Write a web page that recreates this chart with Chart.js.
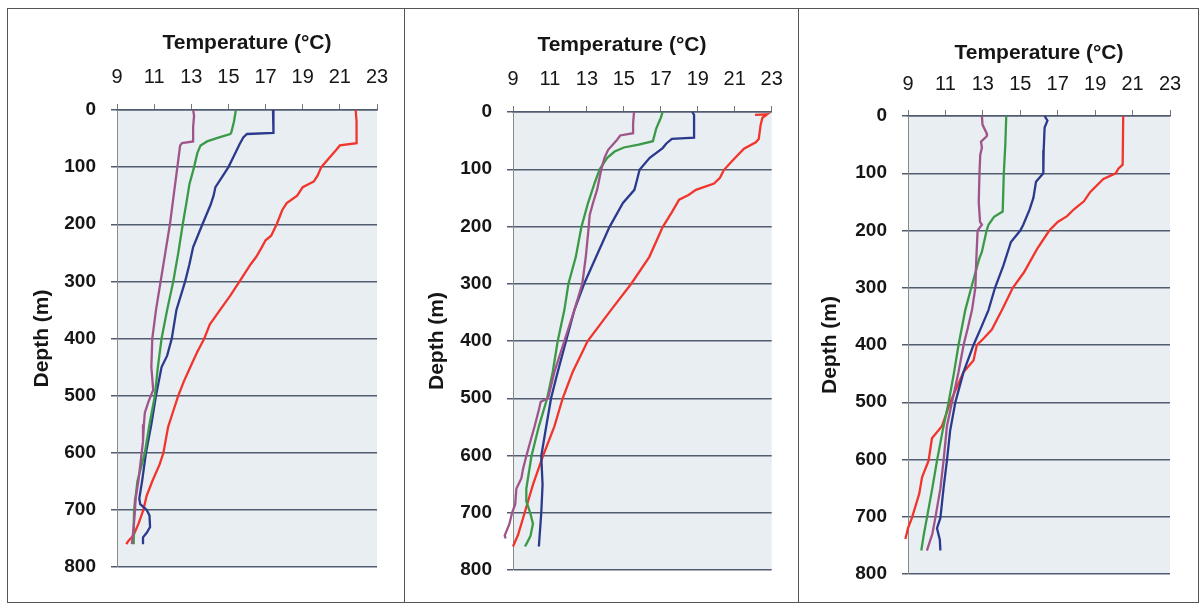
<!DOCTYPE html>
<html><head><meta charset="utf-8">
<script src="https://cdn.jsdelivr.net/npm/chart.js@4/dist/chart.umd.min.js"></script>
<style>
html,body{margin:0;padding:0;background:#fff;}
#wrap{position:relative;width:1203px;height:608px;overflow:hidden;background:#fff;}
.frame{position:absolute;left:7px;top:8px;width:1192px;height:595px;border:1px solid #555;box-sizing:border-box;}
.sep{position:absolute;top:8px;width:1px;height:595px;background:#555;}
canvas{position:absolute;}
</style></head><body>
<div id="wrap">
<div class="frame"></div>
<div class="sep" style="left:404px"></div>
<div class="sep" style="left:798px"></div>
<canvas id="c1" width="395" height="592" style="left:8px;top:9px"></canvas>
<canvas id="c2" width="392" height="592" style="left:405px;top:9px"></canvas>
<canvas id="c3" width="398" height="592" style="left:799px;top:9px"></canvas>
</div>
<script>
// ---- tick labels ----
const tempTicks = [9, 11, 13, 15, 17, 19, 21, 23];
const depthTicks = [0, 100, 200, 300, 400, 500, 600, 700, 800];
const xTitle = 'Temperature (°C)';
const yTitle = 'Depth (m)';

// ---- panel 1 ----
const p1PurpleDepth = [0,10,30,55,58,62,100,150,200,250,300,350,400,450,490,510,530,550,580,600,650,680,700,730,760];
const p1PurpleTemp  = [13.1,13.15,13.1,13.1,12.5,12.4,12.25,12.05,11.85,11.6,11.35,11.1,10.9,10.85,10.95,10.7,10.5,10.45,10.4,10.33,10.15,10.0,9.97,9.9,9.8];
const p1GreenDepth = [0,20,40,42,48,55,62,75,100,130,160,200,250,300,350,400,450,500,550,600,650,700,730,760];
const p1GreenTemp  = [15.4,15.3,15.15,15.1,14.5,13.85,13.5,13.33,13.15,12.9,12.75,12.54,12.3,12.03,11.7,11.4,11.2,11.04,10.75,10.5,10.1,9.92,9.9,9.9];
const p1BlueDepth = [0,10,40,42,48,60,80,100,120,135,150,165,200,240,270,300,350,400,430,450,500,550,600,650,680,690,700,710,730,740,748,760];
const p1BlueTemp  = [17.4,17.45,17.4,16.0,15.8,15.6,15.3,15.0,14.6,14.3,14.2,14.05,13.6,13.1,12.9,12.67,12.2,11.95,11.7,11.4,11.1,10.85,10.56,10.35,10.2,10.25,10.6,10.75,10.78,10.6,10.4,10.4];
const p1RedDepth = [0,20,58,62,70,85,100,115,125,135,150,163,175,200,220,228,240,257,270,300,325,350,375,400,425,450,475,500,530,555,600,620,650,675,700,725,745,755,760];
const p1RedTemp  = [21.85,21.9,21.9,21.0,20.8,20.4,20.0,19.8,19.6,19.0,18.7,18.14,17.9,17.6,17.3,17.0,16.8,16.5,16.2,15.6,15.1,14.55,14.0,13.7,13.3,12.95,12.6,12.3,12.0,11.75,11.5,11.3,10.9,10.6,10.42,10.15,9.88,9.6,9.5];

// ---- panel 2 ----
const p2PurpleDepth = [0,20,37,41,50,66,80,100,136,159,180,200,253,300,346,400,454,500,506,520,549,580,601,624,640,658,685,700,720,740,745];
const p2PurpleTemp  = [15.55,15.5,15.5,14.8,14.6,14.15,13.95,13.78,13.55,13.33,13.15,13.1,12.94,12.75,12.32,11.78,11.24,10.9,10.5,10.4,10.17,9.9,9.72,9.54,9.45,9.18,9.12,8.95,8.8,8.55,8.6];
const p2GreenDepth = [0,10,29,51,57,62,69,80,100,124,159,201,253,300,346,400,454,500,549,601,658,680,700,719,740,750,759];
const p2GreenTemp  = [17.1,17.0,16.75,16.57,15.8,15.0,14.5,14.1,13.69,13.42,13.06,12.7,12.4,12.0,11.78,11.42,11.15,10.85,10.4,10.0,9.72,9.72,9.93,10.08,9.95,9.8,9.65];
const p2BlueDepth = [0,5,45,47,55,63,80,101,120,136,159,201,253,300,346,400,454,500,549,601,651,700,759];
const p2BlueTemp  = [18.7,18.8,18.8,17.6,17.3,17.1,16.4,15.85,15.7,15.57,14.95,14.22,13.5,12.85,12.32,11.87,11.42,11.06,10.8,10.53,10.6,10.53,10.4];
const p2RedDepth = [5,4,10,23,47,53,64,82,101,115,125,136,145,153,175,201,253,300,346,400,454,500,549,601,651,700,739,759];
const p2RedTemp  = [22.1,22.75,22.5,22.4,22.3,22.14,21.5,20.96,20.42,20.2,19.88,18.9,18.5,17.99,17.6,17.1,16.38,15.4,14.3,13.04,12.23,11.69,11.24,10.62,10.08,9.63,9.27,9.0];

// ---- panel 3 ----
const p3PurpleDepth = [0,15,30,35,45,55,68,100,150,185,190,200,250,300,339,370,400,447,500,542,602,651,702,730,759];
const p3PurpleTemp  = [12.95,12.98,13.2,13.22,12.9,12.95,12.86,12.82,12.78,12.85,12.95,12.72,12.65,12.6,12.42,12.2,11.97,11.7,11.35,11.08,10.9,10.73,10.46,10.3,10.01];
const p3GreenDepth = [0,50,100,167,176,190,200,237,250,300,339,400,450,500,550,602,650,702,730,759];
const p3GreenTemp  = [14.25,14.2,14.12,14.06,13.6,13.3,13.2,12.95,12.8,12.38,12.06,11.7,11.45,11.17,10.85,10.55,10.3,10.01,9.85,9.71];
const p3BlueDepth = [0,8,20,60,100,115,143,163,190,200,220,261,300,339,370,400,447,500,550,602,650,702,720,740,759];
const p3BlueTemp  = [16.3,16.45,16.3,16.25,16.23,15.84,15.7,15.5,15.16,15.0,14.5,14.1,13.65,13.3,12.9,12.5,11.97,11.53,11.25,11.08,10.9,10.73,10.55,10.7,10.73];
const p3RedDepth = [0,85,92,100,110,133,149,162,175,185,200,232,273,300,339,373,390,400,427,447,500,542,563,602,631,660,702,720,739];
const p3RedTemp  = [20.5,20.47,20.24,20.1,19.44,18.73,18.4,17.9,17.5,17.0,16.55,15.9,15.2,14.6,14.02,13.48,13.0,12.68,12.5,11.97,11.26,10.81,10.28,10.1,9.75,9.6,9.21,9.0,8.86];

// ---- styling ----
const COLORS = {purple:'#a0558a', green:'#3a9a48', blue:'#2c3a8e', red:'#f2352c'};
const FONT = "'Liberation Sans', Arial, sans-serif";
const GRID = '#525c70';

const plotBg = {
  id: 'plotBg',
  beforeDraw(chart) {
    const {ctx, chartArea: a} = chart;
    ctx.save();
    ctx.fillStyle = '#e8eef2';
    ctx.fillRect(a.left, a.top, a.right - a.left, a.bottom - a.top);
    ctx.restore();
  }
};

function pts(depths, temps) { return depths.map((d, i) => ({x: temps[i], y: d})); }
function ds(depths, temps, color) {
  return {data: pts(depths, temps), borderColor: color, backgroundColor: color,
          borderWidth: 2.3, pointRadius: 0, showLine: true, tension: 0, clip: false};
}

function makePanel(id, series, g) {
  new Chart(document.getElementById(id), {
    type: 'scatter',
    data: {datasets: series},
    options: {
      responsive: false, animation: false, devicePixelRatio: 1,
      layout: {padding: {left: 0, top: 0, right: g.padRight, bottom: g.padBottom}},
      plugins: {legend: {display: false}, tooltip: {enabled: false}},
      scales: {
        x: {
          type: 'linear', position: 'top', min: 9, max: 23,
          afterBuildTicks: s => { s.ticks = tempTicks.map(v => ({value: v})); },
          afterFit: s => { s.height = g.xH; },
          grid: {drawOnChartArea: false, drawTicks: true, tickLength: 6, color: '#777', lineWidth: 1},
          border: {display: true, color: GRID, width: 1.5},
          ticks: {font: {family: FONT, size: 20}, color: '#161616', padding: g.xTickPad, maxRotation: 0, autoSkip: false},
          title: {display: true, text: xTitle + g.titleSuffix, font: {family: FONT, size: 21, weight: 'bold'},
                  color: '#161616', padding: {top: g.xTitlePad, bottom: 0}}
        },
        y: {
          type: 'linear', position: 'left', reverse: true, min: 0, max: 800,
          afterBuildTicks: s => { s.ticks = depthTicks.map(v => ({value: v})); },
          afterFit: s => { s.width = g.yW; },
          grid: {drawOnChartArea: true, drawTicks: true, tickLength: 6, color: GRID, lineWidth: 1.5},
          border: {display: true, color: '#8a8a8a', width: 1},
          ticks: {font: {family: FONT, size: 19, weight: 'bold'}, color: '#161616', padding: 15, autoSkip: false},
          title: {display: true, text: yTitle, font: {family: FONT, size: 21, weight: 'bold'},
                  color: '#161616', padding: {top: g.yTitlePad, bottom: 0}}
        }
      }
    },
    plugins: [plotBg]
  });
}

makePanel('c1', [
  ds(p1PurpleDepth, p1PurpleTemp, COLORS.purple),
  ds(p1GreenDepth, p1GreenTemp, COLORS.green),
  ds(p1BlueDepth, p1BlueTemp, COLORS.blue),
  ds(p1RedDepth, p1RedTemp, COLORS.red)
], {yW: 109, xH: 101, padRight: 26, padBottom: 34, xTitlePad: 21.4, yTitlePad: 22, xTickPad: 14.2, titleSuffix: ''});

makePanel('c2', [
  ds(p2PurpleDepth, p2PurpleTemp, COLORS.purple),
  ds(p2GreenDepth, p2GreenTemp, COLORS.green),
  ds(p2BlueDepth, p2BlueTemp, COLORS.blue),
  ds(p2RedDepth, p2RedTemp, COLORS.red)
], {yW: 108, xH: 103, padRight: 24, padBottom: 31, xTitlePad: 23.4, yTitlePad: 19.6, xTickPad: 14.2, titleSuffix: '\u00a0\u00a0\u00a0\u00a0\u00a0\u00a0\u00a0'});

makePanel('c3', [
  ds(p3PurpleDepth, p3PurpleTemp, COLORS.purple),
  ds(p3GreenDepth, p3GreenTemp, COLORS.green),
  ds(p3BlueDepth, p3BlueTemp, COLORS.blue),
  ds(p3RedDepth, p3RedTemp, COLORS.red)
], {yW: 109, xH: 107, padRight: 27, padBottom: 27, xTitlePad: 31.4, yTitlePad: 19, xTickPad: 13.2, titleSuffix: ''});
</script>
</body></html>
